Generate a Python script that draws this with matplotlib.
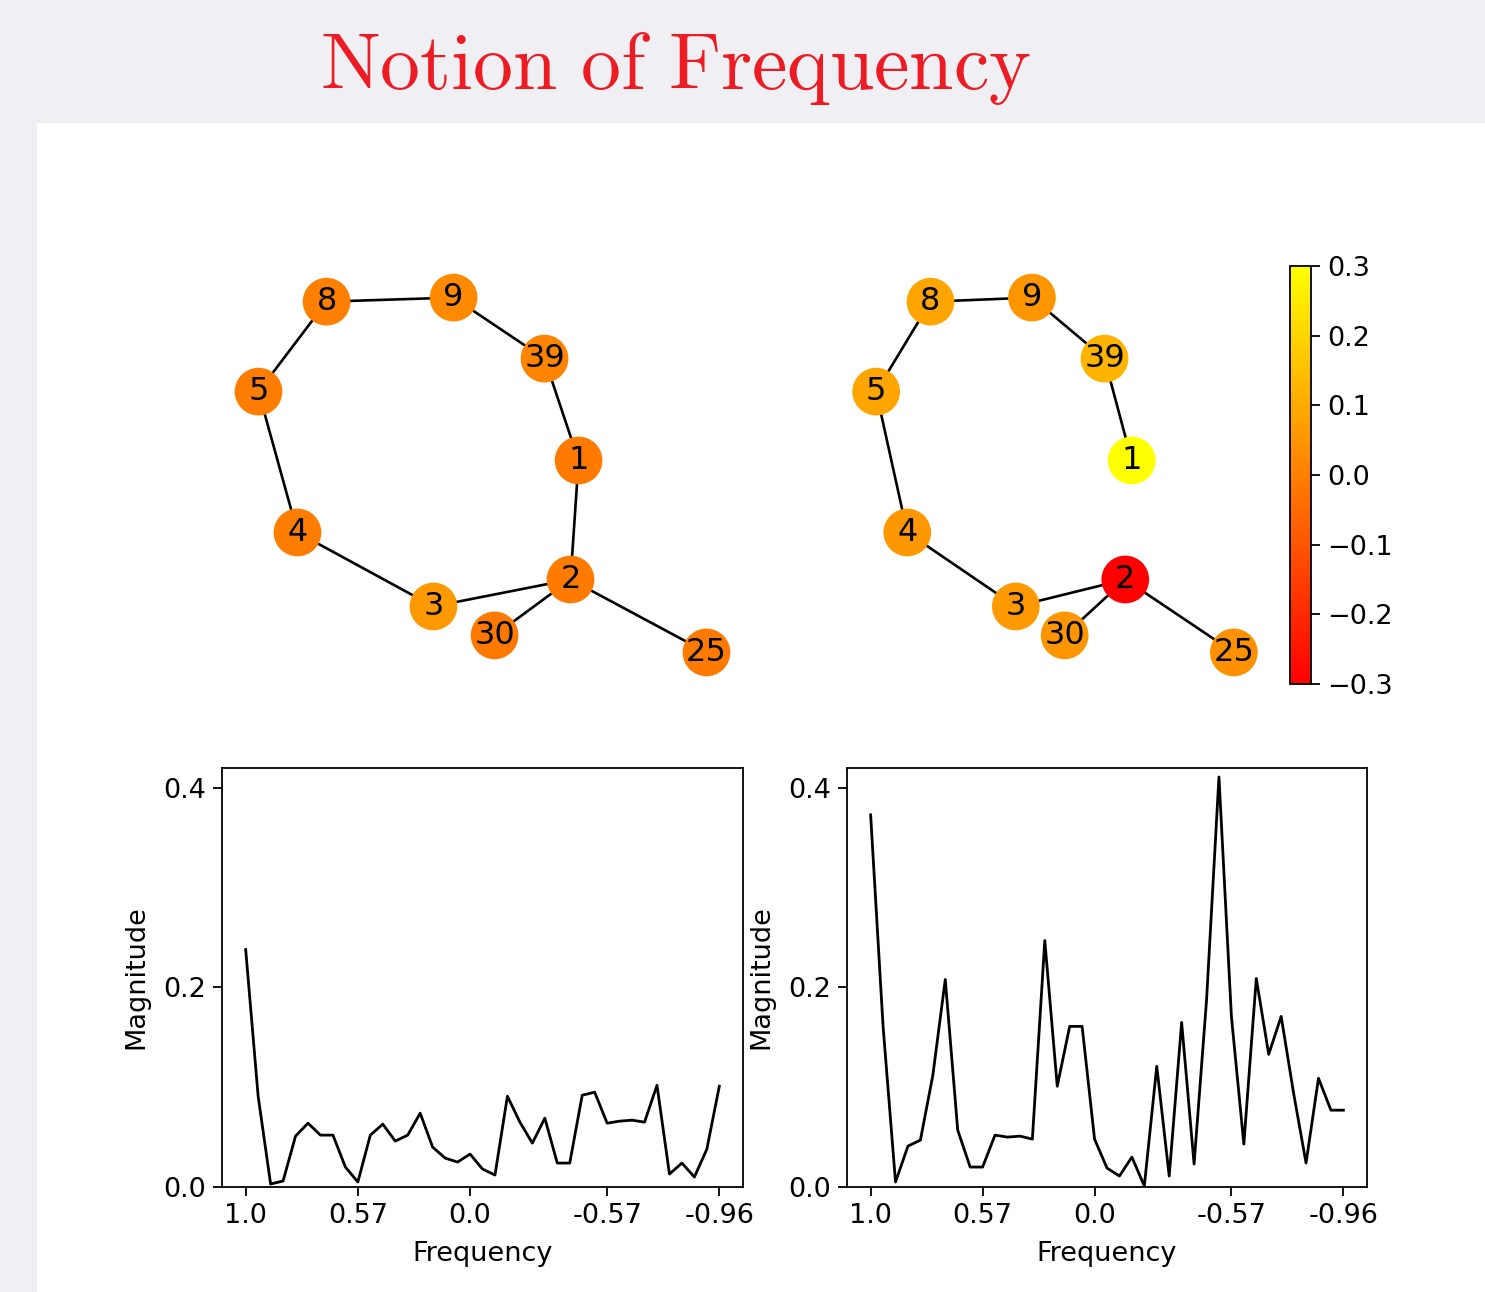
import matplotlib
matplotlib.use("Agg")
import matplotlib.pyplot as plt
from matplotlib.patches import Rectangle
from matplotlib.colors import Normalize
from matplotlib.cm import ScalarMappable

# graph layout (subgraph of 10 nodes)
nodes = ['8', '9', '39', '5', '1', '4', '2', '3', '30', '25']
node_x = [-0.696, -0.129, 0.277, -1.0, 0.429, -0.826, 0.393, -0.219, 0.054, 1.0]
node_y = [0.977, 1.0, 0.656, 0.470, 0.082, -0.324, -0.589, -0.741, -0.904, -1.0]

edges_left = [('8', '9'), ('9', '39'), ('39', '1'), ('1', '2'), ('8', '5'),
              ('5', '4'), ('4', '3'), ('3', '2'), ('2', '30'), ('2', '25')]
edges_right = [('8', '9'), ('9', '39'), ('39', '1'), ('8', '5'),
               ('5', '4'), ('4', '3'), ('3', '2'), ('2', '30'), ('2', '25')]

# signal value on each node
signal_left = [0.0, 0.025, 0.01, -0.005, -0.012, -0.005, -0.01, 0.06, -0.015, -0.01]
signal_right = [0.088, 0.053, 0.124, 0.088, 0.3, 0.058, -0.3, 0.065, 0.053, 0.04]

# spectrum magnitudes
mag_left = [0.238, 0.091, 0.003, 0.006, 0.051, 0.064, 0.052, 0.052, 0.020, 0.005,
            0.052, 0.063, 0.046, 0.052, 0.074, 0.040, 0.029, 0.025, 0.033, 0.018,
            0.012, 0.091, 0.065, 0.044, 0.069, 0.024, 0.024, 0.092, 0.095, 0.064,
            0.066, 0.067, 0.065, 0.102, 0.013, 0.024, 0.010, 0.038, 0.101]
mag_right = [0.373, 0.161, 0.005, 0.041, 0.047, 0.112, 0.208, 0.057, 0.020, 0.020,
             0.052, 0.050, 0.051, 0.048, 0.247, 0.101, 0.161, 0.161, 0.048, 0.019,
             0.011, 0.030, 0.001, 0.121, 0.011, 0.165, 0.023, 0.187, 0.411, 0.171,
             0.043, 0.209, 0.133, 0.171, 0.094, 0.024, 0.109, 0.077, 0.077]
freq_tick_idx = [0, 9, 18, 29, 38]
freq_tick_labels = ['1.0', '0.57', '0.0', '-0.57', '-0.96']

W, H = 1485, 1292
FS = 19.5
fig = plt.figure(figsize=(W / 100, H / 100), dpi=100, facecolor='#efeff4')

def box(x0, y0, x1, y1):
    # pixel box (top-left origin) -> figure fraction rect
    return [x0 / W, 1 - y1 / H, (x1 - x0) / W, (y1 - y0) / H]

# white slide panel, kept behind the axes
fig.patches.append(Rectangle((37 / W, 0), 1 - 37 / W, 1 - 123 / H,
                             transform=fig.transFigure, facecolor='white',
                             edgecolor='none', zorder=-10))

plt.rcParams['mathtext.fontset'] = 'cm'
fig.text(676 / W, 1 - 68 / H, r'$\mathrm{Notion\ of\ Frequency}$', color='#ed1c24',
         fontsize=57.5, ha='center', va='center')

norm = Normalize(-0.3, 0.3)
cmap = plt.get_cmap('autumn')
pos = dict(zip(nodes, zip(node_x, node_y)))

def draw_graph(ax, edges, values):
    for a, b in edges:
        ax.plot([pos[a][0], pos[b][0]], [pos[a][1], pos[b][1]], color='black',
                lw=1.9, zorder=1)
    ax.scatter(node_x, node_y, c=values, cmap=cmap, norm=norm, s=1180,
               edgecolors='none', zorder=2)
    for n, x, y in zip(nodes, node_x, node_y):
        ax.text(x, y, n, fontsize=23, ha='center', va='center', zorder=3)
    ax.set_xlim(-1.163, 1.163)
    ax.set_ylim(-1.178, 1.178)
    ax.axis('off')

ax1 = fig.add_axes(box(222, 266, 743, 684))
draw_graph(ax1, edges_left, signal_left)
ax2 = fig.add_axes(box(847, 266, 1263, 684))
draw_graph(ax2, edges_right, signal_right)

cax = fig.add_axes(box(1290, 266, 1311, 684))
cb = fig.colorbar(ScalarMappable(norm=norm, cmap=cmap), cax=cax)
cb.set_ticks([-0.3, -0.2, -0.1, 0.0, 0.1, 0.2, 0.3])
cb.ax.tick_params(labelsize=FS, length=6.5, width=1.3, pad=5)
cb.outline.set_linewidth(1.3)

def draw_spectrum(ax, mags):
    ax.plot(range(len(mags)), mags, color='black', lw=2.0)
    ax.set_ylim(0, 0.42)
    ax.set_yticks([0.0, 0.2, 0.4])
    ax.set_xticks(freq_tick_idx)
    ax.set_xticklabels(freq_tick_labels)
    ax.tick_params(labelsize=FS, length=6.5, width=1.3, pad=5)
    for s in ax.spines.values():
        s.set_linewidth(1.3)
    ax.set_xlabel('Frequency', fontsize=FS, labelpad=9)
    ax.set_ylabel('Magnitude', fontsize=FS, labelpad=10)

ax3 = fig.add_axes(box(222, 768, 743, 1187))
draw_spectrum(ax3, mag_left)
ax4 = fig.add_axes(box(847, 768, 1367, 1187))
draw_spectrum(ax4, mag_right)

fig.savefig('out.png', dpi=100, facecolor=fig.get_facecolor())
